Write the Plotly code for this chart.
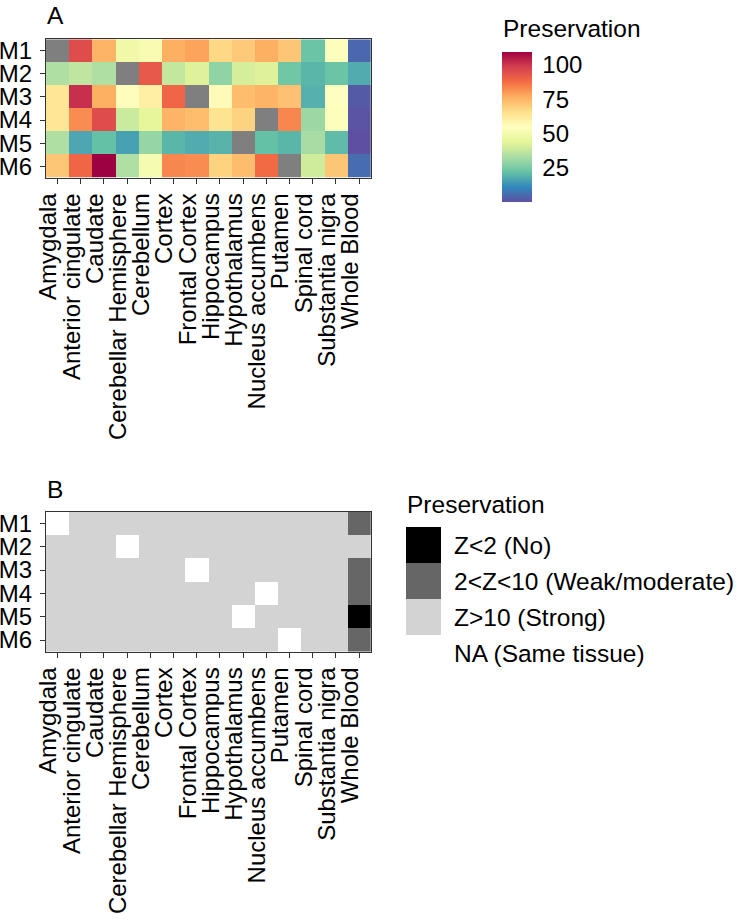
import plotly.graph_objects as go

W, H = 741, 920

modules = ["M1", "M2", "M3", "M4", "M5", "M6"]
tissues = ["Amygdala", "Anterior cingulate", "Caudate", "Cerebellar Hemisphere",
           "Cerebellum", "Cortex", "Frontal Cortex", "Hippocampus", "Hypothalamus",
           "Nucleus accumbens", "Putamen", "Spinal cord", "Substantia nigra", "Whole Blood"]

N = None
# Panel A: preservation scores (None = same tissue)
pres_M1 = [N, 95, 75, 48, 51, 76, 78, 67, 70, 76, 71, 22, 53, 4]
pres_M2 = [33, 36, 33, N, 92, 37, 42, 28, 40, 42, 23, 19, 22, 17]
pres_M3 = [63, 101, 76, 55, 60, 89, N, 56, 73, 75, 72, 18, 54, 1.5]
pres_M4 = [63, 82, 95, 38, 44, 75, 73, 64, 68, N, 83, 30, 53, 0]
pres_M5 = [33, 16, 21, 15, 29, 19, 17, 18.5, N, 21, 19, 32, 20, -0.7]
pres_M6 = [71, 89, 109.2, 33, 50, 83, 82, 68, 73, 88, N, 39, 71, 5]

# Panel B: categorical preservation class (None = same tissue)
cat_labels = ["Z<2 (No)", "2<Z<10 (Weak/moderate)", "Z>10 (Strong)", "NA (Same tissue)"]
S, Wk, No = "Z>10 (Strong)", "2<Z<10 (Weak/moderate)", "Z<2 (No)"
cls_M1 = [N, S, S, S, S, S, S, S, S, S, S, S, S, Wk]
cls_M2 = [S, S, S, N, S, S, S, S, S, S, S, S, S, S]
cls_M3 = [S, S, S, S, S, S, N, S, S, S, S, S, S, Wk]
cls_M4 = [S, S, S, S, S, S, S, S, S, N, S, S, S, Wk]
cls_M5 = [S, S, S, S, S, S, S, S, N, S, S, S, S, No]
cls_M6 = [S, S, S, S, S, S, S, S, S, S, N, S, S, Wk]

colorbar_ticks = [25, 50, 75, 100]

spectral = ['#9E0142', '#D53E4F', '#F46D43', '#FDAE61', '#FEE08B', '#FFFFBF',
            '#E6F598', '#ABDDA4', '#66C2A5', '#3288BD', '#5E4FA2'][::-1]
cscale = [[i / 10, c] for i, c in enumerate(spectral)]

cat_colors = {No: "#000000", Wk: "#666666", S: "#D3D3D3"}
cat_code = {No: 0, Wk: 1, S: 2}

pres = [pres_M1, pres_M2, pres_M3, pres_M4, pres_M5, pres_M6]
cls = [cls_M1, cls_M2, cls_M3, cls_M4, cls_M5, cls_M6]

FONT = "Liberation Sans, Arial, Helvetica, sans-serif"
TXT = 24
TTL = 24.5

def px(x):
    return x / W

def py(y):
    return 1 - y / H

fig = go.Figure()

# colorbar geometry (pixels)
CB_X0, CB_X1, CB_TOP, CB_LEN = 502, 532, 52.5, 149.5
vals = [v for row in pres for v in row if v is not None]
zlo, zhi = min(vals), max(vals)

# Panel A
fig.add_trace(go.Heatmap(
    z=pres, x=tissues, y=modules, colorscale=cscale, zmin=zlo, zmax=zhi,
    xaxis="x", yaxis="y", hoverongaps=False,
    colorbar=dict(
        x=px(CB_X0), xanchor="left", xpad=0, y=py(CB_TOP), yanchor="top", ypad=0,
        len=CB_LEN, lenmode="pixels", thickness=CB_X1 - CB_X0, thicknessmode="pixels",
        outlinewidth=0, tickvals=colorbar_ticks, ticks="outside", ticklen=6,
        tickcolor="rgba(0,0,0,0)", tickwidth=1,
        tickfont=dict(family=FONT, size=TXT, color="black"),
    ),
))
na_mask = [[1 if v is None else None for v in row] for row in pres]
fig.add_trace(go.Heatmap(
    z=na_mask, x=tissues, y=modules, colorscale=[[0, "#7F7F7F"], [1, "#7F7F7F"]],
    showscale=False, xaxis="x", yaxis="y", hoverongaps=False,
))

# Panel B
zc = [[None if v is None else cat_code[v] for v in row] for row in cls]
fig.add_trace(go.Heatmap(
    z=zc, x=tissues, y=modules, zmin=0, zmax=2, showscale=False,
    colorscale=[[0, cat_colors[No]], [1 / 3, cat_colors[No]], [1 / 3, cat_colors[Wk]],
                [2 / 3, cat_colors[Wk]], [2 / 3, cat_colors[S]], [1, cat_colors[S]]],
    xaxis="x2", yaxis="y2", hoverongaps=False,
))

axis_common = dict(
    type="category", tickmode="linear", dtick=1, showgrid=False, zeroline=False,
    showline=True, mirror=True, automargin=False,
    linecolor="#333333", linewidth=1, ticks="outside", ticklen=5, tickcolor="#333333",
    tickfont=dict(family=FONT, size=TXT, color="black"),
)
xax = dict(tickangle=-90, ticklabelshift=-9, **axis_common)
yax = dict(autorange="reversed", ticklabelstandoff=3, **axis_common)

fig.update_layout(
    width=W, height=H, margin=dict(l=0, r=0, t=0, b=0, autoexpand=False),
    paper_bgcolor="white", plot_bgcolor="white", showlegend=False,
    xaxis=dict(domain=[px(46), px(370.7)], anchor="y", **xax),
    yaxis=dict(domain=[py(177.7), py(39.3)], anchor="x", **yax),
    xaxis2=dict(domain=[px(46), px(370.7)], anchor="y2", **xax),
    yaxis2=dict(domain=[py(651.7), py(511.7)], anchor="x2", **yax),
)

ann = [
    dict(text="A", x=px(45), y=py(15.7), xanchor="left", yanchor="middle", font=dict(size=TTL)),
    dict(text="B", x=px(45), y=py(489.2), xanchor="left", yanchor="middle", font=dict(size=TTL)),
    dict(text="Preservation", x=px(500.5), y=py(28.7), xanchor="left", yanchor="middle", font=dict(size=TTL)),
    dict(text="Preservation", x=px(404.5), y=py(504.2), xanchor="left", yanchor="middle", font=dict(size=TTL)),
]
shapes = []
# white colorbar ticks on both edges (ggplot style)
for v in colorbar_ticks:
    ty = CB_TOP + (zhi - v) / (zhi - zlo) * CB_LEN
    for xa, xb in [(CB_X0, CB_X0 + 6), (CB_X1 - 6, CB_X1)]:
        shapes.append(dict(type="line", xref="paper", yref="paper", x0=px(xa), x1=px(xb),
                           y0=py(ty), y1=py(ty), line=dict(color="white", width=1)))
key_top = 527
key_h = 36
key_cols = [cat_colors[No], cat_colors[Wk], cat_colors[S], None]
for i, (lab, col) in enumerate(zip(cat_labels, key_cols)):
    y0 = key_top + i * key_h
    if col is not None:
        shapes.append(dict(type="rect", xref="paper", yref="paper", x0=px(406), x1=px(441),
                           y0=py(y0), y1=py(y0 + key_h), fillcolor=col, line=dict(width=0)))
    ann.append(dict(text=lab, x=px(451.5), y=py(y0 + key_h / 2), xanchor="left", yanchor="middle",
                    font=dict(size=TTL)))
for a in ann:
    a.update(xref="paper", yref="paper", showarrow=False)
    a["font"].update(family=FONT, color="black")
fig.update_layout(annotations=ann, shapes=shapes)

fig.write_html("out.html", config={"displayModeBar": False},
               post_script="document.body.style.margin='0';document.body.style.padding='0';")
